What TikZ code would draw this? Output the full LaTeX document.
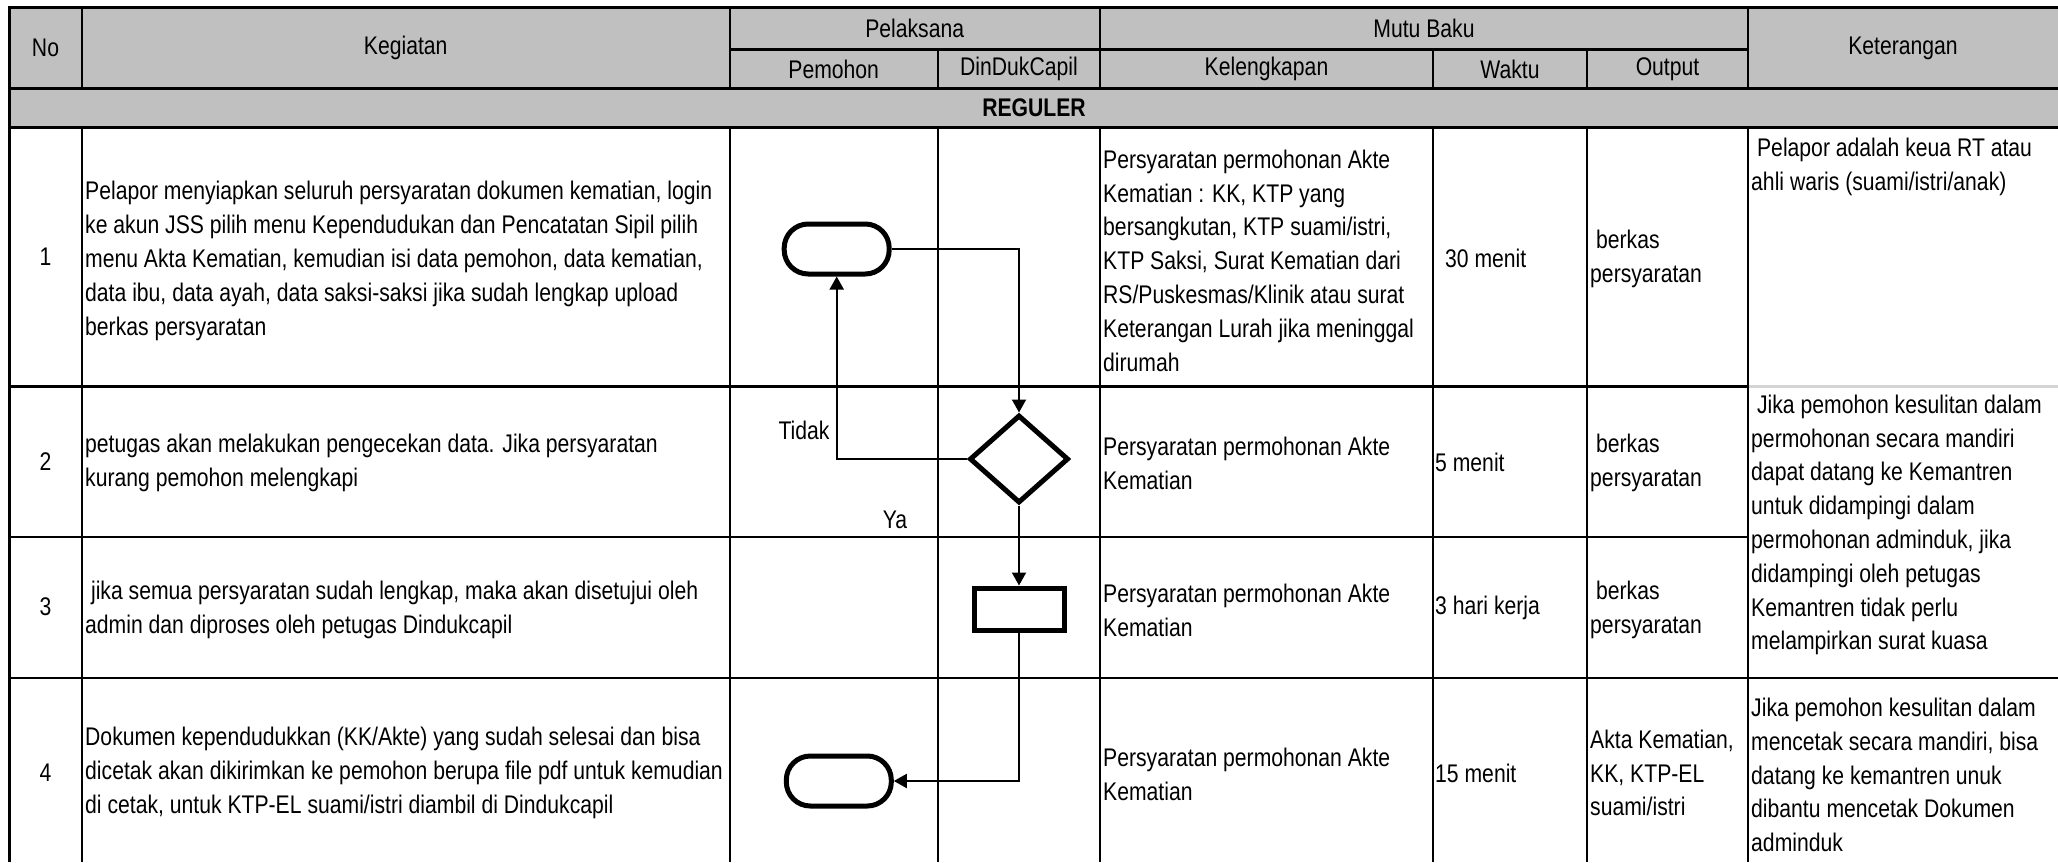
\documentclass[tikz,border=0pt]{standalone}
\usepackage{fontspec}
\setmainfont{Liberation Sans}[FakeStretch=0.83]
\usetikzlibrary{arrows.meta,shapes.geometric}
\definecolor{headgrey}{HTML}{C0C0C0}
\definecolor{softgrey}{HTML}{D4D4D4}

\begin{document}
\begin{tikzpicture}[x=1pt,y=-1pt]
\tikzset{
  celltext/.style={inner sep=0pt,font=\fontsize{25.5}{33.8}\selectfont,align=left,anchor=west},
  headtext/.style={inner sep=0pt,font=\fontsize{25.5}{33.8}\selectfont},
  borderline/.style={draw=black,line width=3pt},
  rowline/.style={draw=black,line width=2.5pt},
  colline/.style={draw=black,line width=2pt},
  flowterm/.style={draw=black,line width=5pt,rounded corners=24pt,minimum width=105pt,minimum height=50pt,inner sep=0pt},
  flowdecide/.style={diamond,draw=black,line width=5pt,minimum width=99pt,minimum height=88pt,inner sep=0pt},
  flowproc/.style={draw=black,line width=5pt,minimum width=90pt,minimum height=42pt,inner sep=0pt},
  flowarrow/.style={draw=black,line width=2pt,line join=miter,-{Triangle[length=13pt,width=14pt]}}
}
\useasboundingbox (0,0) rectangle (2058,862);
\fill[headgrey] (9,7.5) rectangle (2058,127.7);
\node[headtext] (h_no) at (45.5,48) {No};
\node[headtext] (h_kegiatan) at (405.7,48) {Kegiatan};
\node[headtext] (h_pelaksana) at (914.7,28.5) {Pelaksana};
\node[headtext] (h_pemohon) at (833.7,69) {Pemohon};
\node[headtext] (h_dinduk) at (1019,69) {DinDukCapil};
\node[headtext] (h_mutu) at (1424,28.5) {Mutu Baku};
\node[headtext] (h_lengkap) at (1266.5,69) {Kelengkapan};
\node[headtext] (h_waktu) at (1510,69) {Waktu};
\node[headtext] (h_output) at (1667.5,69) {Output};
\node[headtext] (h_ket) at (1903,48) {Keterangan};
\node[headtext,font=\fontsize{25.5}{33.8}\selectfont\bfseries] (h_reguler) at (1034,108) {REGULER};
\node[headtext] (no_1) at (45.5,257) {1};
\node[headtext] (no_2) at (45.5,462) {2};
\node[headtext] (no_3) at (45.5,607) {3};
\node[headtext] (no_4) at (45.5,773) {4};
\node[celltext] (keg_1) at (85,261) {Pelapor menyiapkan seluruh persyaratan dokumen kematian, login\\ke akun JSS pilih menu Kependudukan dan Pencatatan Sipil pilih\\menu Akta Kematian, kemudian isi data pemohon, data kematian,\\data ibu, data ayah, data saksi-saksi jika sudah lengkap upload\\berkas persyaratan};
\node[celltext] (keg_2) at (85,463) {petugas akan melakukan pengecekan data. Jika persyaratan\\kurang pemohon melengkapi};
\node[celltext] (keg_3) at (85,610) {\hspace*{5.9pt}jika semua persyaratan sudah lengkap, maka akan disetujui oleh\\admin dan diproses oleh petugas Dindukcapil};
\node[celltext] (keg_4) at (85,773) {Dokumen kependudukkan (KK/Akte) yang sudah selesai dan bisa\\dicetak akan dikirimkan ke pemohon berupa file pdf untuk kemudian\\di cetak, untuk KTP-EL suami/istri diambil di Dindukcapil};
\node[celltext] (lkp_1) at (1103,260.5) {Persyaratan permohonan Akte\\Kematian : KK, KTP yang\\bersangkutan, KTP suami/istri,\\KTP Saksi, Surat Kematian dari\\RS/Puskesmas/Klinik atau surat\\Keterangan Lurah jika meninggal\\dirumah};
\node[celltext] (lkp_2) at (1103,463) {Persyaratan permohonan Akte\\Kematian};
\node[celltext] (lkp_3) at (1103,610) {Persyaratan permohonan Akte\\Kematian};
\node[celltext] (lkp_4) at (1103,774) {Persyaratan permohonan Akte\\Kematian};
\node[celltext] (wkt_1) at (1439,258.5) {\hspace*{5.9pt}30 menit};
\node[celltext] (wkt_2) at (1435,462) {5 menit};
\node[celltext] (wkt_3) at (1435,608) {3 hari kerja};
\node[celltext] (wkt_4) at (1435,773) {15 menit};
\node[celltext] (out_1) at (1590,259.3) {\hspace*{5.9pt}berkas\\persyaratan};
\node[celltext] (out_2) at (1590,463) {\hspace*{5.9pt}berkas\\persyaratan};
\node[celltext] (out_3) at (1590,610) {\hspace*{5.9pt}berkas\\persyaratan};
\node[celltext] (out_4) at (1590,773) {Akta Kematian,\\KK, KTP-EL\\suami/istri};
\node[celltext,anchor=north west] (ket_1) at (1751,138) {\hspace*{5.9pt}Pelapor adalah keua RT atau\\ahli waris (suami/istri/anak)};
\node[celltext] (ket_2) at (1751,525) {\hspace*{5.9pt}Jika pemohon kesulitan dalam\\permohonan secara mandiri\\dapat datang ke Kemantren\\untuk didampingi dalam\\permohonan adminduk, jika\\didampingi oleh petugas\\Kemantren tidak perlu\\melampirkan surat kuasa};
\node[celltext] (ket_4) at (1751,775) {Jika pemohon kesulitan dalam\\mencetak secara mandiri, bisa\\datang ke kemantren unuk\\dibantu mencetak Dokumen\\adminduk};
\draw[borderline] (9,7.5) -- (2058,7.5);
\draw[borderline] (729.5,49) -- (1748,49);
\draw[borderline] (9,88.5) -- (2058,88.5);
\draw[borderline] (9,127.7) -- (2058,127.7);
\draw[rowline] (9,386.7) -- (1748,386.7);
\draw[rowline,draw=softgrey] (1748,386.7) -- (2058,386.7);
\draw[rowline] (9,537) -- (1748,537);
\draw[rowline] (9,678) -- (2058,678);
\draw[borderline] (9,6) -- (9,862);
\draw[colline] (82,7.5) -- (82,88.5);
\draw[colline] (729.5,7.5) -- (729.5,88.5);
\draw[colline] (1100,7.5) -- (1100,88.5);
\draw[colline] (1748,7.5) -- (1748,88.5);
\draw[colline] (938,49) -- (938,88.5);
\draw[colline] (1433,49) -- (1433,88.5);
\draw[colline] (1587,49) -- (1587,88.5);
\draw[colline] (82,127.7) -- (82,862);
\draw[colline] (729.5,127.7) -- (729.5,862);
\draw[colline] (938,127.7) -- (938,862);
\draw[colline] (1100,127.7) -- (1100,862);
\draw[colline] (1433,127.7) -- (1433,862);
\draw[colline] (1587,127.7) -- (1587,862);
\draw[colline] (1748,127.7) -- (1748,862);
\node[flowterm,fill=white] (n_mulai) at (836.7,249) {};
\node[flowdecide,fill=white] (n_cek) at (1019,459) {};
\node[flowproc,fill=white] (n_proses) at (1019,609) {};
\node[flowterm,fill=white] (n_selesai) at (838.8,781) {};
\draw[flowarrow] (n_mulai.east) -| (n_cek.north);
\draw[flowarrow] (n_cek.west) -| (n_mulai.south);
\draw[flowarrow] (n_cek.south) -- (n_proses.north);
\draw[flowarrow] (n_proses.south) |- (n_selesai.east);
\node[headtext] (lbl_tidak) at (804,430) {Tidak};
\node[headtext] (lbl_ya) at (895,520) {Ya};
\end{tikzpicture}
\end{document}
